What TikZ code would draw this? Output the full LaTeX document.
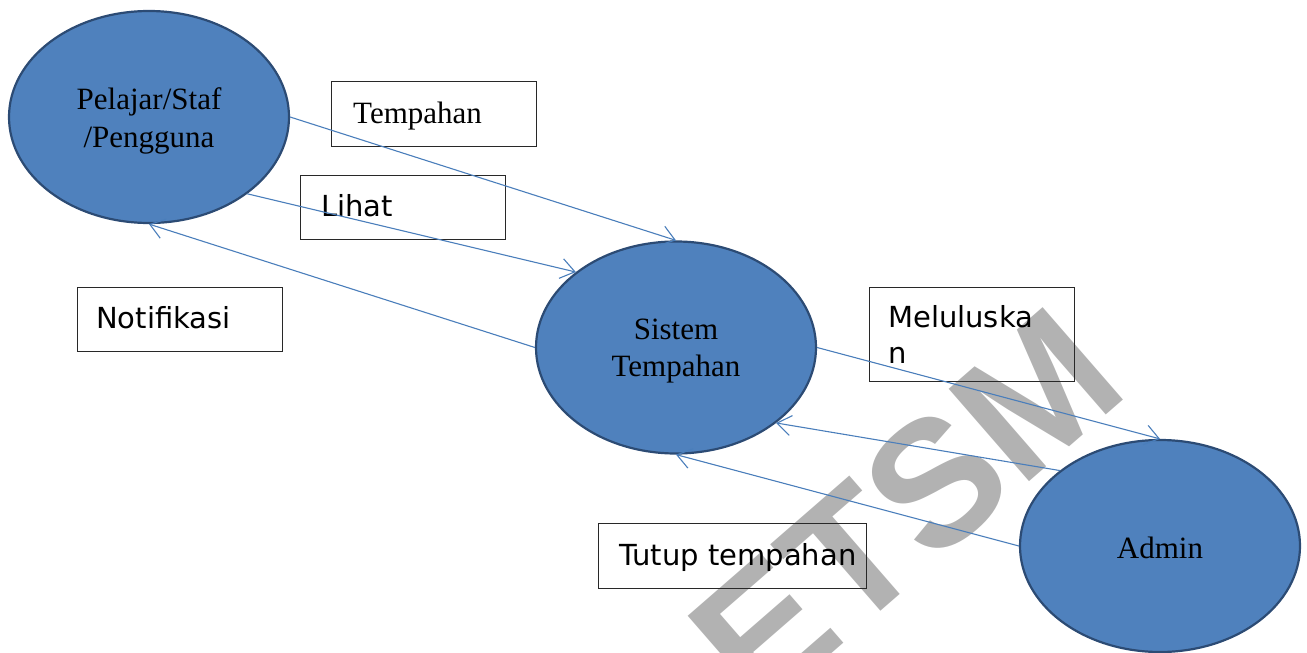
\documentclass[tikz,border=0pt]{standalone}
\usepackage{fontspec}
\setmainfont{Liberation Serif}
\newfontfamily\boxfont{DejaVu Sans}
\newfontfamily\markfont{Liberation Sans}
\usetikzlibrary{arrows.meta,shapes.geometric}
\definecolor{actorfill}{HTML}{4F81BD}
\definecolor{actorline}{HTML}{2C4B74}
\definecolor{flowline}{HTML}{4A7EBB}
\definecolor{markgray}{RGB}{178,178,178}
\definecolor{boxline}{RGB}{40,40,40}
\begin{document}
\begin{tikzpicture}[x=1pt,y=-1pt,
  actor/.style={ellipse, draw=actorline, line width=2.2pt, fill=actorfill,
    minimum width=280pt, minimum height=212pt, inner sep=0pt},
  actortext/.style={inner sep=0pt, align=center, font=\fontsize{31}{37.5}\selectfont},
  flowbox/.style={draw=boxline, line width=1.3pt, rectangle, anchor=north west, inner sep=0pt},
  flowtext/.style={anchor=base west, inner sep=0pt, font=\boxfont\fontsize{29}{36.5}\selectfont},
  serifbox/.style={anchor=base west, inner sep=0pt, font=\fontsize{31}{37.5}\selectfont},
  flow/.style={draw=flowline, line width=1.1pt,
    -{Straight Barb[length=14pt,width=20pt,line width=1.1pt]}}
]
\useasboundingbox (0,0) rectangle (1307,653);

% watermark behind everything
\node[text=markgray, rotate=41, inner sep=0pt,
  font=\markfont\bfseries\fontsize{178}{178}\selectfont] (mark) at (906,508) {ETSM};

% actors / processes
\node[actor] (pel) at (149,117) {};
\node[actor] (sis) at (676,347.5) {};
\node[actor] (adm) at (1160,546) {};
\node[actortext] (pelT) at (149,121) {Pelajar/Staf\\/Pengguna};
\node[actortext] (sisT) at (676,351) {Sistem\\Tempahan};
\node[actortext] (admT) at (1160,548) {Admin};

% label boxes
\node[flowbox, minimum width=205pt, minimum height=65pt] (bTemp) at (331,81) {};
\node[flowbox, minimum width=205pt, minimum height=64pt] (bLihat) at (300,175) {};
\node[flowbox, minimum width=205pt, minimum height=64pt] (bNoti) at (77,287) {};
\node[flowbox, minimum width=205pt, minimum height=94pt] (bMel) at (869,287) {};
\node[flowbox, minimum width=268pt, minimum height=65pt] (bTutup) at (598,523) {};

% label texts
\node[serifbox] (tTemp) at (353,123) {Tempahan};
\node[flowtext] (tLihat) at (321,216) {Lihat};
\node[flowtext] (tNoti) at (96,328) {Notifikasi};
\node[flowtext] (tMel1) at (888,327) {Meluluska};
\node[flowtext] (tMel2) at (888,363) {n};
\node[flowtext] (tTutup) at (619,565) {Tutup tempahan};

% data flows
\draw[flow] (pel.east) -- (sis.north);
\draw[flow] (pel.-38) -- (sis.143);
\draw[flow] (sis.west) -- (pel.south);
\draw[flow] (sis.east) -- (adm.north);
\draw[flow] (adm.143) -- (sis.-37);
\draw[flow] (adm.west) -- (sis.south);
\end{tikzpicture}
\end{document}
